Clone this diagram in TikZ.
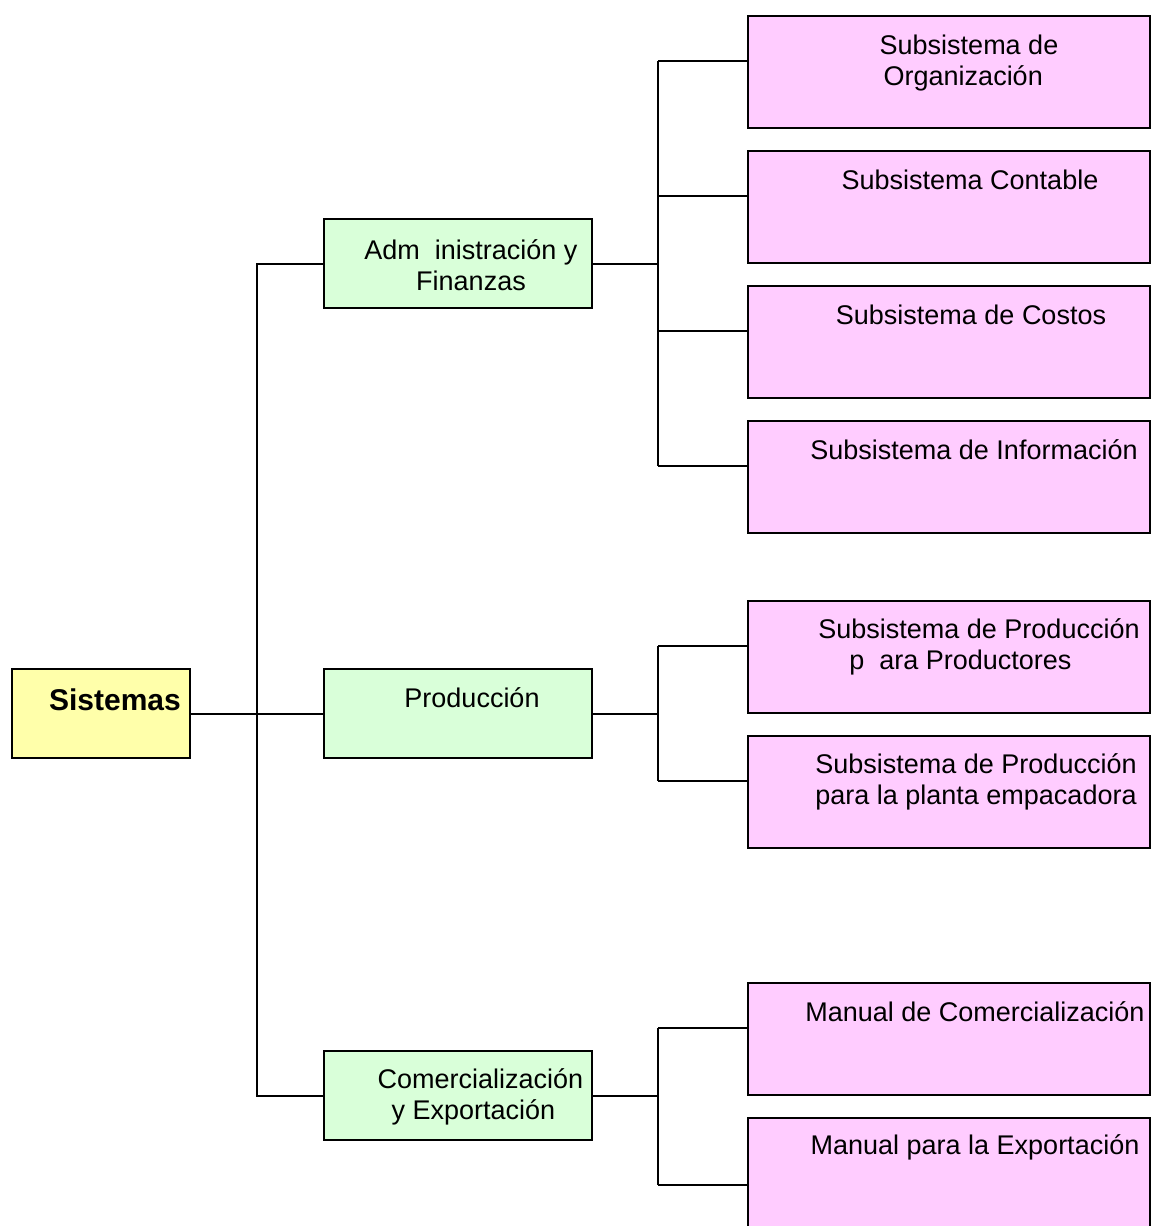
\documentclass[tikz,border=0pt]{standalone}
\usepackage{fontspec}
\setmainfont{Liberation Sans}
\usetikzlibrary{calc}
\definecolor{rootfill}{RGB}{255,255,170}
\definecolor{areafill}{RGB}{217,255,217}
\definecolor{subfill}{RGB}{255,204,255}
\begin{document}
\begin{tikzpicture}[x=1pt,y=-1pt,
  box/.style={draw=black, line width=2pt, rectangle, inner sep=0pt, anchor=north west},
  rootbox/.style={box, fill=rootfill, minimum width=178pt, minimum height=89pt},
  areabox/.style={box, fill=areafill, minimum width=268pt, minimum height=89pt},
  subbox/.style={box, fill=subfill, minimum width=402pt, minimum height=112pt},
  txt/.style={inner sep=0pt, align=center, font=\fontsize{27}{31.5}\selectfont},
  wire/.style={draw=black, line width=2pt}
]
\useasboundingbox (0,0) rectangle (1152,1226);
\clip (0,0) rectangle (1152,1226);

% root and the three areas
\node[rootbox] (root) at (11,668) {};
\node[areabox] (adm)  at (323,218) {};
\node[areabox] (prod) at (323,668) {};
\node[areabox] (com)  at (323,1050) {};

% subsystems (the last one runs past the lower edge)
\node[subbox] (org)  at (747,15)  {};
\node[subbox] (cont) at (747,150) {};
\node[subbox] (cost) at (747,285) {};
\node[subbox] (info) at (747,420) {};
\node[subbox] (pp)   at (747,600) {};
\node[subbox] (pe)   at (747,735) {};
\node[subbox] (mc)   at (747,982) {};
\node[subbox, minimum height=160pt] (me) at (747,1117) {};

% labels
\node[txt, font=\fontsize{30}{34}\selectfont\bfseries] (rootT) at (115,700) {Sistemas};
\node[txt] (admT)  at (471,265) {Adm\ \ inistración y\\Finanzas};
\node[txt] (prodT) at (472,698) {Producción};
\node[txt, align=left] (comT) at (480.5,1097) {Comercialización\\\hspace*{14pt}y Exportación};
\node[txt, align=left] (orgT) at (969,63) {Subsistema de\\\hspace*{4pt}Organización};
\node[txt] (contT) at (970,180) {Subsistema Contable};
\node[txt] (costT) at (971,315) {Subsistema de Costos};
\node[txt] (infoT) at (974,450) {Subsistema de Información};
\node[txt, align=left] (ppT) at (979,647) {Subsistema de Producción\\\hspace*{31pt}p\ \ ara Productores};
\node[txt] (peT)   at (976,782) {Subsistema de Producción\\para la planta empacadora};
\node[txt] (mcT)   at (975,1012) {Manual de Comercialización};
\node[txt] (meT)   at (975,1147) {Manual para la Exportación};

% branch points on the left side of each subsystem box
\foreach \s in {org,cont,cost,info,pp,pe,mc}{
  \coordinate (\s-in) at ($(\s.north west)+(0,46)$);
}
\coordinate (me-in) at ($(me.north west)+(0,68)$);

% first level bus
\coordinate (busR) at (257,0);
\draw[wire] (root.east) -- (prod.west);
\draw[wire] (adm.west) -| (busR |- com.west) -- (com.west);

% second level buses
\coordinate (busS) at (658,0);
\foreach \a/\first/\last/\list in {adm/org/info/{org,cont,cost,info}, prod/pp/pe/{pp,pe}, com/mc/me/{mc,me}}{
  \draw[wire] (\a.east) -- (busS |- \a.east);
  \draw[wire] (busS |- \first-in) -- (busS |- \last-in);
  \foreach \s in \list{
    \draw[wire] (\s-in) -- (busS |- \s-in);
  }
}
\end{tikzpicture}
\end{document}
